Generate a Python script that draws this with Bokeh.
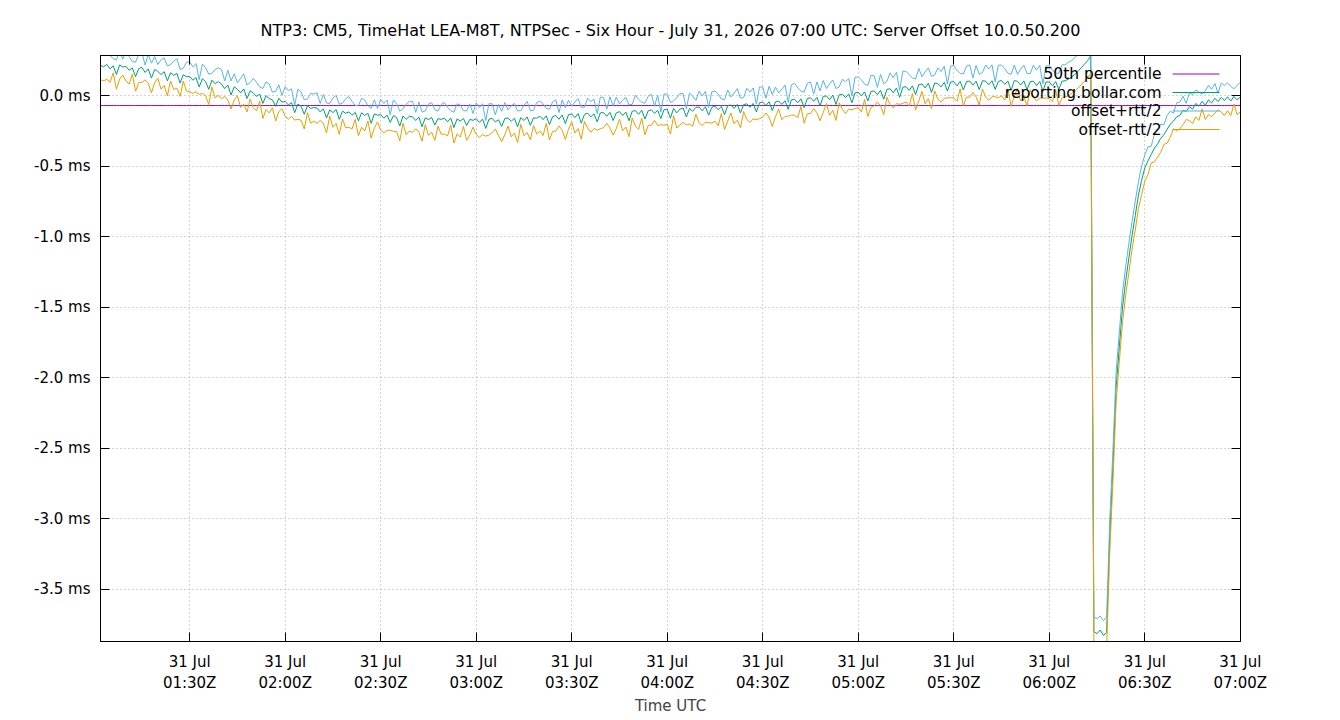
import numpy as np
import pandas as pd
from bokeh.plotting import figure
from bokeh.models import (FixedTicker, PrintfTickFormatter, LinearAxis, Label,
                          Range1d, ColumnDataSource)
from bokeh.embed import file_html
from bokeh.resources import INLINE

FONT = "DejaVu Sans"

# ---- data: one sample per minute, 01:02Z .. 07:00Z -------------------------
start_time = "2026-07-31 01:02"
end_time = "2026-07-31 07:00"

# measured clock offset of the server (ms)
offset_ms = [
    0.215, 0.205, 0.222, 0.190, 0.212, 0.150, 0.218, 0.203,
    0.208, 0.180, 0.197, 0.135, 0.192, 0.201, 0.165, 0.190, 0.125, 0.185,
    0.172, 0.150, 0.170, 0.105, 0.162, 0.145, 0.158, 0.090, 0.149, 0.135,
    0.135, 0.110, 0.128, 0.062, 0.120, 0.100, 0.045, 0.110, 0.085, 0.100,
    0.082, 0.050, 0.075, 0.005, 0.063, 0.045, 0.020, 0.048, -0.020, 0.035,
    0.018, -0.005, 0.011, -0.055, 0.000, -0.020, -0.030, -0.075, -0.018, -0.045,
    -0.042, -0.065, -0.049, -0.120, -0.060, -0.075, -0.132, -0.072, -0.090, -0.084,
    -0.088, -0.115, -0.094, -0.158, -0.100, -0.120, -0.098, -0.168, -0.109, -0.125,
    -0.115, -0.138, -0.119, -0.178, -0.121, -0.140, -0.125, -0.196, -0.130, -0.138,
    -0.135, -0.160, -0.138, -0.190, -0.141, -0.155, -0.215, -0.144, -0.168, -0.146,
    -0.150, -0.176, -0.152, -0.220, -0.157, -0.170, -0.154, -0.208, -0.163, -0.168,
    -0.160, -0.185, -0.158, -0.226, -0.164, -0.180, -0.162, -0.212, -0.168, -0.175,
    -0.163, -0.190, -0.166, -0.232, -0.168, -0.160, -0.186, -0.171, -0.218, -0.162,
    -0.158, -0.182, -0.160, -0.220, -0.155, -0.176, -0.151, -0.210, -0.157, -0.160,
    -0.145, -0.170, -0.143, -0.205, -0.149, -0.140, -0.167, -0.137, -0.198, -0.135,
    -0.130, -0.155, -0.127, -0.195, -0.132, -0.124, -0.150, -0.129, -0.186, -0.122,
    -0.120, -0.146, -0.118, -0.176, -0.122, -0.113, -0.140, -0.117, -0.178, -0.110,
    -0.106, -0.132, -0.103, -0.166, -0.108, -0.100, -0.125, -0.104, -0.162, -0.098,
    -0.096, -0.160, -0.090, -0.122, -0.095, -0.088, -0.150, -0.091, -0.110, -0.083,
    -0.080, -0.107, -0.078, -0.138, -0.083, -0.074, -0.100, -0.076, -0.134, -0.070,
    -0.066, -0.090, -0.062, -0.122, -0.063, -0.058, -0.082, -0.055, -0.115, -0.050,
    -0.045, -0.070, -0.043, -0.105, -0.044, -0.038, -0.062, -0.036, -0.097, -0.030,
    -0.026, -0.050, -0.022, -0.085, -0.020, -0.015, -0.040, -0.012, -0.072, -0.005,
    -0.002, -0.028, 0.004, -0.062, 0.006, 0.010, -0.014, 0.013, -0.050, 0.020,
    0.024, -0.002, 0.027, -0.037, 0.030, 0.034, 0.008, 0.038, -0.025, 0.045,
    0.049, 0.020, 0.055, -0.012, 0.060, 0.064, 0.038, 0.070, 0.008, 0.078,
    0.083, 0.055, 0.088, 0.023, 0.090, 0.086, 0.062, 0.095, 0.033, 0.097,
    0.099, 0.070, 0.102, 0.041, 0.100, 0.104, 0.075, 0.103, 0.043, 0.106,
    0.103, 0.078, 0.106, 0.045, 0.101, 0.108, 0.080, 0.104, 0.038, 0.107,
    0.102, 0.075, 0.105, 0.043, 0.099, 0.103, 0.072, 0.100, 0.033, 0.098,
    0.096, 0.070, 0.100, 0.045, 0.102, 0.106, 0.118, 0.132, 0.150, 0.172,
    0.198, 0.222, 0.248, 0.283, -3.802, -3.815, -3.790, -3.828, -3.808, -3.120,
    -2.620, -2.060, -1.780, -1.500, -1.310, -1.150, -0.990, -0.850, -0.705, -0.600,
    -0.512, -0.462, -0.418, -0.372, -0.342, -0.302, -0.276, -0.238, -0.202, -0.180,
    -0.150, -0.140, -0.105, -0.112, -0.078, -0.095, -0.055, -0.075, -0.040, -0.068,
    -0.030, -0.052, -0.018, -0.042, -0.012, -0.035, -0.008, -0.038, -0.005, -0.030,
    -0.010,
]

# round-trip time to the server (ms)
rtt_ms = [
    0.205, 0.198, 0.212, 0.190, 0.100, 0.208, 0.201, 0.112,
    0.210, 0.195, 0.088, 0.206, 0.199, 0.214, 0.105, 0.203, 0.211, 0.185,
    0.098, 0.207, 0.196, 0.213, 0.115, 0.202, 0.209, 0.190, 0.090, 0.205,
    0.212, 0.188, 0.200, 0.104, 0.210, 0.197, 0.215, 0.096, 0.203, 0.194,
    0.208, 0.110, 0.211, 0.199, 0.185, 0.092, 0.206, 0.214, 0.192, 0.118,
    0.209, 0.201, 0.100, 0.213, 0.196, 0.205, 0.110, 0.210, 0.190, 0.094,
    0.212, 0.203, 0.195, 0.106, 0.214, 0.200, 0.208, 0.098, 0.211, 0.193,
    0.216, 0.120, 0.205, 0.212, 0.090, 0.209, 0.198, 0.215, 0.112, 0.207,
    0.218, 0.196, 0.100, 0.213, 0.206, 0.220, 0.108, 0.210, 0.201, 0.095,
    0.219, 0.208, 0.215, 0.111, 0.222, 0.200, 0.212, 0.102, 0.217, 0.209,
    0.221, 0.116, 0.214, 0.206, 0.098, 0.223, 0.210, 0.218, 0.107, 0.212,
    0.224, 0.202, 0.104, 0.219, 0.213, 0.226, 0.112, 0.208, 0.220, 0.097,
    0.225, 0.211, 0.218, 0.110, 0.222, 0.205, 0.100, 0.220, 0.215, 0.227,
    0.115, 0.219, 0.210, 0.224, 0.097, 0.216, 0.221, 0.207, 0.108, 0.223,
    0.212, 0.226, 0.105, 0.218, 0.209, 0.222, 0.095, 0.215, 0.224, 0.205,
    0.111, 0.220, 0.213, 0.227, 0.102, 0.211, 0.219, 0.206, 0.118, 0.225,
    0.214, 0.099, 0.221, 0.208, 0.223, 0.109, 0.217, 0.210, 0.226, 0.096,
    0.219, 0.212, 0.114, 0.224, 0.207, 0.220, 0.101, 0.215, 0.088, 0.222,
    0.210, 0.225, 0.106, 0.216, 0.222, 0.205, 0.116, 0.219, 0.213, 0.098,
    0.223, 0.209, 0.218, 0.108, 0.221, 0.214, 0.226, 0.103, 0.211, 0.220,
    0.113, 0.217, 0.224, 0.208, 0.099, 0.222, 0.215, 0.219, 0.110, 0.225,
    0.212, 0.104, 0.220, 0.226, 0.209, 0.115, 0.218, 0.223, 0.097, 0.214,
    0.227, 0.210, 0.109, 0.221, 0.216, 0.224, 0.102, 0.219, 0.212, 0.228,
    0.105, 0.222, 0.215, 0.226, 0.112, 0.211, 0.225, 0.218, 0.099, 0.223,
    0.216, 0.229, 0.108, 0.220, 0.227, 0.213, 0.103, 0.224, 0.219, 0.114,
    0.226, 0.214, 0.222, 0.100, 0.228, 0.217, 0.224, 0.110, 0.221, 0.230,
    0.104, 0.225, 0.218, 0.229, 0.113, 0.222, 0.216, 0.227, 0.097, 0.224,
    0.230, 0.219, 0.109, 0.226, 0.221, 0.228, 0.102, 0.223, 0.217, 0.116,
    0.229, 0.222, 0.226, 0.105, 0.231, 0.218, 0.224, 0.111, 0.227, 0.221,
    0.099, 0.228, 0.223, 0.230, 0.114, 0.225, 0.219, 0.229, 0.104, 0.226,
    0.232, 0.224, 0.118, 0.229, 0.235, 0.226, 0.238, 0.230, 0.242, 0.236,
    0.245, 0.240, 0.248, 0.250, 0.205, 0.215, 0.198, 0.210, 0.220, 0.226,
    0.218, 0.212, 0.207, 0.215, 0.200, 0.210, 0.196, 0.205, 0.190, 0.202,
    0.185, 0.198, 0.120, 0.194, 0.188, 0.200, 0.140, 0.196, 0.186, 0.110,
    0.198, 0.190, 0.202, 0.115, 0.196, 0.205, 0.192, 0.200, 0.105, 0.203,
    0.208, 0.195, 0.210, 0.118, 0.204, 0.212, 0.198, 0.206, 0.108, 0.209,
    0.207,
]

# median of the offset over the window (ms)
p50_ms = -0.07

x_tick_times = [
    "2026-07-31 01:30", "2026-07-31 02:00", "2026-07-31 02:30", "2026-07-31 03:00",
    "2026-07-31 03:30", "2026-07-31 04:00", "2026-07-31 04:30", "2026-07-31 05:00",
    "2026-07-31 05:30", "2026-07-31 06:00", "2026-07-31 06:30", "2026-07-31 07:00",
]
x_tick_labels = [
    "31 Jul\n01:30Z", "31 Jul\n02:00Z", "31 Jul\n02:30Z", "31 Jul\n03:00Z",
    "31 Jul\n03:30Z", "31 Jul\n04:00Z", "31 Jul\n04:30Z", "31 Jul\n05:00Z",
    "31 Jul\n05:30Z", "31 Jul\n06:00Z", "31 Jul\n06:30Z", "31 Jul\n07:00Z",
]
y_ticks = [0.0, -0.5, -1.0, -1.5, -2.0, -2.5, -3.0, -3.5]

series_names = ["50th percentile", "reporting.bollar.com", "offset+rtt/2", "offset-rtt/2"]
series_colors = ["#9400d3", "#009e73", "#56b4e9", "#e69f00"]

title_text = ("NTP3: CM5, TimeHat LEA-M8T, NTPSec - Six Hour - July 31, 2026 07:00 UTC: "
              "Server Offset 10.0.50.200")

# ---- derived series ---------------------------------------------------------
times = pd.date_range(start_time, periods=len(offset_ms), freq="1min")
off = np.array(offset_ms)
rtt = np.array(rtt_ms)
src = ColumnDataSource(dict(
    t=times,
    off=off,
    hi=off + rtt / 2.0,
    lo=off - rtt / 2.0,
    p50=np.full(len(off), p50_ms),
))

def to_ms(s):
    return pd.Timestamp(s).value / 1e6

x_lo = to_ms(start_time)
x_hi = to_ms(end_time) + 3000.0
y_lo, y_hi = -3.871, 0.285

p = figure(width=1340, height=720, x_axis_type="datetime",
           x_range=Range1d(x_lo, x_hi), y_range=Range1d(y_lo, y_hi),
           output_backend="svg", toolbar_location=None,
           min_border_left=100, min_border_right=100,
           min_border_top=55, min_border_bottom=79)

p.background_fill_color = "white"
p.border_fill_color = "white"
p.outline_line_color = "black"
p.outline_line_width = 1

p.title.text = title_text
p.title.align = "center"
p.title.text_font = FONT
p.title.text_font_size = "16px"
p.title.text_font_style = "normal"
p.title.text_color = "black"
p.title.standoff = 31

# ---- series -----------------------------------------------------------------
p.line("t", "p50", source=src, color=series_colors[0], line_width=1)
p.line("t", "off", source=src, color=series_colors[1], line_width=1)
p.line("t", "hi", source=src, color=series_colors[2], line_width=1)
p.line("t", "lo", source=src, color=series_colors[3], line_width=1)

# ---- axes -------------------------------------------------------------------
x_ticks = [to_ms(t) for t in x_tick_times]
xt = FixedTicker(ticks=x_ticks)
yt = FixedTicker(ticks=y_ticks)

xa = p.xaxis[0]
xa.ticker = xt
xa.major_label_overrides = {tk: lb for tk, lb in zip(x_ticks, x_tick_labels)}
xa.axis_label = "Time UTC"
xa.axis_label_text_font = FONT
xa.axis_label_text_font_size = "15px"
xa.axis_label_text_font_style = "normal"
xa.axis_label_standoff = 2
xa.major_label_standoff = 11

ya = p.yaxis[0]
ya.ticker = yt
ya.formatter = PrintfTickFormatter(format="%.1f ms")
ya.major_label_standoff = 10

for ax in (xa, ya):
    ax.major_label_text_font = FONT
    ax.major_label_text_font_size = "15px"
    ax.major_label_text_color = "black"
    ax.major_tick_in = 9
    ax.major_tick_out = 0
    ax.minor_tick_line_color = None
    ax.axis_line_color = "black"
    ax.major_tick_line_color = "black"

# mirrored ticks on the right and top edges
for ticker, side in ((yt, "right"), (xt, "above")):
    m = LinearAxis(ticker=ticker, major_label_text_font_size="0px",
                   major_label_standoff=0, major_tick_in=9, major_tick_out=0,
                   minor_tick_line_color=None, axis_line_color="black",
                   major_tick_line_color="black")
    p.add_layout(m, side)

for g in (p.xgrid[0], p.ygrid[0]):
    g.grid_line_color = "#a8a8a8"
    g.grid_line_dash = "1 3"
    g.grid_line_width = 1
p.xgrid[0].ticker = xt
p.ygrid[0].ticker = yt

# ---- key (text on the left, sample line on the right) -----------------------
xspan = x_hi - x_lo
yspan = y_hi - y_lo
key_text_x = x_lo + 0.9307 * xspan
key_line_x0 = x_lo + 0.9404 * xspan
key_line_x1 = x_lo + 0.9816 * xspan
key_rows = [y_hi - (18.5 + 18.5 * i) / 586.0 * yspan for i in range(len(series_names))]

p.segment(x0=[key_line_x0] * 4, y0=key_rows, x1=[key_line_x1] * 4, y1=key_rows,
          color=series_colors, line_width=1)
for name, yk in zip(series_names, key_rows):
    p.add_layout(Label(x=key_text_x, y=yk, text=name, text_align="right",
                       text_baseline="middle", text_font=FONT,
                       text_font_size="15.5px", text_color="black"))

open("out.html", "w").write(file_html(p, INLINE))
